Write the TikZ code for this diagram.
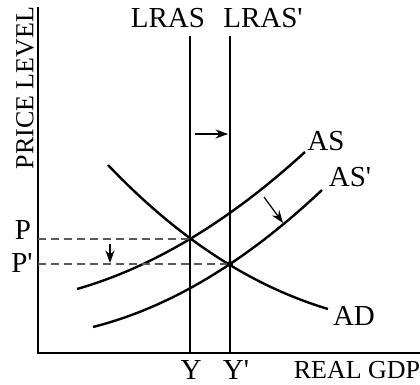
\documentclass[tikz,border=0pt]{standalone}
\usepackage{fontspec}
\setmainfont{Liberation Serif}[Ligatures=TeXOff]
\usepackage{tikz}
\usetikzlibrary{positioning, arrows.meta}
\tikzset{
    axis/.style={line width=1.2pt},
    curve/.style={line width=1.2pt},
    guide/.style={dashed, dash pattern=on 4pt off 2.5pt, draw=black!65, line width=0.8pt},
    shiftarrow/.style={-{Stealth[length=2.2mm, width=1.6mm]}, line width=0.6pt},
    lbl/.style={inner sep=0pt, font=\fontsize{14.5}{16}\selectfont},
    axislbl/.style={inner sep=0pt, font=\fontsize{13}{15}\selectfont}
}

\begin{document}
\begin{tikzpicture}[x=0.5pt, y=-0.5pt]
    \useasboundingbox (0,0) rectangle (420,385);

    % axes
    \coordinate (o) at (38,353);
    \coordinate (ytop) at (38,7);
    \coordinate (xend) at (420,353);
    \draw[axis] (ytop) -- (o) -- (xend);
    \node[axislbl, rotate=90] (plev) at (25,88) {PRICE LEVEL};
    \node[axislbl] (rgdp) at (357,370) {REAL GDP};

    % long run supply
    \coordinate (lras) at (190,36);
    \coordinate (lrasb) at (190,353);
    \coordinate (lrasn) at (230,36);
    \coordinate (lrasnb) at (230,353);
    \draw[curve] (lras) -- (lrasb);
    \draw[curve] (lrasn) -- (lrasnb);
    \node[lbl] (lraslbl) at (168,18) {LRAS};
    \node[lbl] (lrasnlbl) at (263,18) {LRAS'};
    \node[lbl] (y) at (191,370) {Y};
    \node[lbl] (yn) at (236,370) {Y'};

    % equilibria
    \coordinate (e) at (190,239);
    \coordinate (en) at (230,264);

    % curves
    \draw[curve] (77,289) .. controls (153,267.2) and (229,221.5) .. (305,152);
    \draw[curve] (93,327) .. controls (169.3,307.7) and (245.7,262) .. (322,190);
    \draw[curve] (108,165) .. controls (181,241.7) and (255,287.1) .. (328,309);
    \node[lbl] (as) at (326,141) {AS};
    \node[lbl] (asn) at (350,177) {AS'};
    \node[lbl] (ad) at (354,316) {AD};

    % price levels
    \node[lbl] (p) at (23,230) {P};
    \node[lbl] (pn) at (22,263) {P'};
    \coordinate (pl) at (38,239);
    \coordinate (pnl) at (38,264);
    \draw[guide] (pl) -- (e);
    \draw[guide] (pnl) -- (en);
    \fill (e) circle (1.6);
    \fill (en) circle (3);

    % shifts
    \coordinate (s1a) at (195,134);
    \coordinate (s1b) at (228,134);
    \draw[shiftarrow] (s1a) -- (s1b);
    \coordinate (s2a) at (264,197);
    \coordinate (s2b) at (283,223);
    \draw[shiftarrow] (s2a) -- (s2b);
    \coordinate (s3a) at (110,244);
    \coordinate (s3b) at (110,263);
    \draw[shiftarrow] (s3a) -- (s3b);
\end{tikzpicture}
\end{document}
